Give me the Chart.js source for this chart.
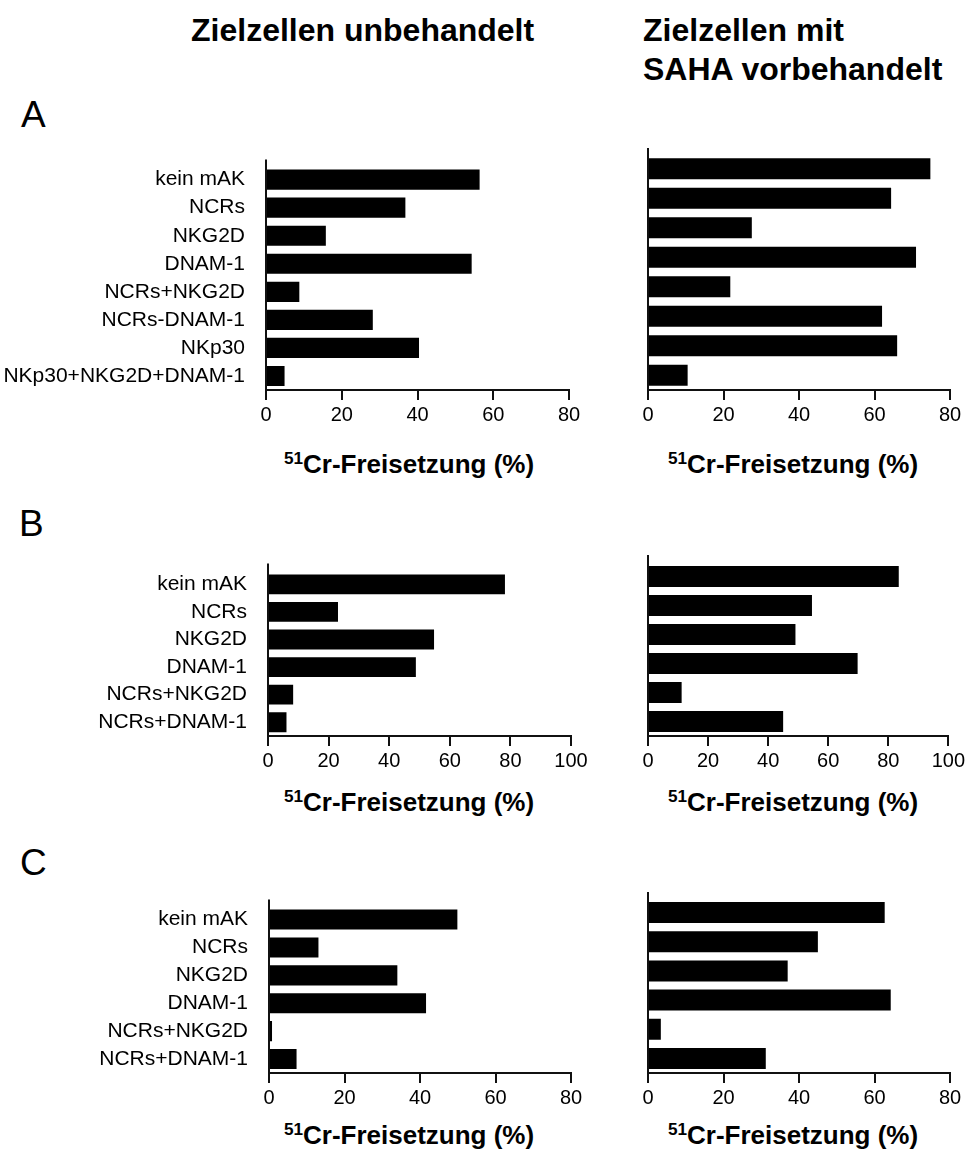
<!DOCTYPE html>
<html>
<head>
<meta charset="utf-8">
<script src="https://cdn.jsdelivr.net/npm/chart.js@4.4.1/dist/chart.umd.min.js"></script>
<style>
  html, body { margin: 0; padding: 0; background: #fff; }
  #page { position: relative; width: 968px; height: 1149px; overflow: hidden; font-family: "Liberation Sans", Arial, sans-serif; color: #000; }
  .txt { position: absolute; white-space: nowrap; line-height: 1; }
  .head { font-size: 32px; font-weight: bold; }
  .letter { font-size: 37px; }
  .xtitle { font-size: 26px; font-weight: bold; width: 400px; text-align: center; }
  .xtitle sup { font-size: 0.66em; vertical-align: 0.5em; line-height: 0; }
  canvas { position: absolute; }
</style>
</head>
<body>
<div id="page">
  <div class="txt head" style="left:191px; top:14px;">Zielzellen unbehandelt</div>
  <div class="txt head" style="left:643px; top:14px;">Zielzellen mit</div>
  <div class="txt head" style="left:643px; top:53px;">SAHA vorbehandelt</div>

  <div class="txt letter" style="left:21px; top:96px;">A</div>
  <div class="txt letter" style="left:19px; top:505px;">B</div>
  <div class="txt letter" style="left:20px; top:844px;">C</div>

  <canvas id="chartA1" width="620" height="290" style="left:0; top:140px;"></canvas>
  <canvas id="chartA2" width="348" height="290" style="left:620px; top:140px;"></canvas>
  <canvas id="chartB1" width="620" height="231" style="left:0; top:545px;"></canvas>
  <canvas id="chartB2" width="348" height="231" style="left:620px; top:545px;"></canvas>
  <canvas id="chartC1" width="620" height="233" style="left:0; top:880px;"></canvas>
  <canvas id="chartC2" width="348" height="233" style="left:620px; top:880px;"></canvas>

  <div class="txt xtitle" style="left:209px; top:451px;"><sup>51</sup>Cr-Freisetzung (%)</div>
  <div class="txt xtitle" style="left:593px; top:451px;"><sup>51</sup>Cr-Freisetzung (%)</div>
  <div class="txt xtitle" style="left:209px; top:789px;"><sup>51</sup>Cr-Freisetzung (%)</div>
  <div class="txt xtitle" style="left:593px; top:789px;"><sup>51</sup>Cr-Freisetzung (%)</div>
  <div class="txt xtitle" style="left:209px; top:1122px;"><sup>51</sup>Cr-Freisetzung (%)</div>
  <div class="txt xtitle" style="left:593px; top:1122px;"><sup>51</sup>Cr-Freisetzung (%)</div>
</div>

<script>
// antibody blocking conditions
const categoriesA = ['kein mAK', 'NCRs', 'NKG2D', 'DNAM-1', 'NCRs+NKG2D', 'NCRs-DNAM-1', 'NKp30', 'NKp30+NKG2D+DNAM-1'];
const categoriesB = ['kein mAK', 'NCRs', 'NKG2D', 'DNAM-1', 'NCRs+NKG2D', 'NCRs+DNAM-1'];
const categoriesC = ['kein mAK', 'NCRs', 'NKG2D', 'DNAM-1', 'NCRs+NKG2D', 'NCRs+DNAM-1'];

// 51Cr release (%), untreated target cells vs. SAHA pretreated
const untreatedA = [56.4, 36.8, 15.8, 54.3, 8.8, 28.2, 40.4, 4.9];
const sahaA = [74.8, 64.4, 27.5, 71.0, 21.8, 62.0, 66.0, 10.5];
const untreatedB = [78.2, 23.1, 54.8, 48.8, 8.3, 6.1];
const sahaB = [83.5, 54.6, 49.1, 69.8, 11.2, 45.0];
const untreatedC = [49.9, 13.1, 34.0, 41.6, 0.8, 7.3];
const sahaC = [62.7, 45.0, 37.0, 64.3, 3.4, 31.2];

// x axis maxima
const xMaxA = 80;
const xMaxB = 100;
const xMaxC = 80;

const FONT = '"Liberation Sans", Arial, sans-serif';
const INK = '#111';

// the y axis line sticks out a little above the bars
const axisTop = {
    id: 'axisTop',
    afterDraw(chart, args, opts) {
        const { ctx, chartArea } = chart;
        ctx.save();
        ctx.strokeStyle = INK;
        ctx.lineWidth = 2;
        ctx.beginPath();
        ctx.moveTo(chartArea.left, chartArea.top - opts.extend);
        ctx.lineTo(chartArea.left, chartArea.top + 1);
        ctx.stroke();
        ctx.restore();
    }
};

function makeChart(id, labels, values, xMax, opt) {
    const ctx = document.getElementById(id).getContext('2d');
    return new Chart(ctx, {
        type: 'bar',
        data: {
            labels: labels,
            datasets: [{
                data: values,
                backgroundColor: '#000',
                borderWidth: 0,
                barPercentage: 0.72,
                categoryPercentage: 1
            }]
        },
        plugins: [axisTop],
        options: {
            indexAxis: 'y',
            responsive: false,
            animation: false,
            layout: {
                padding: { top: opt.padTop, right: opt.padRight, bottom: 0, left: 0 }
            },
            plugins: {
                legend: { display: false },
                tooltip: { enabled: false },
                axisTop: { extend: opt.extend }
            },
            scales: {
                x: {
                    min: 0,
                    max: xMax,
                    afterFit(scale) { scale.height = 40; },
                    ticks: {
                        stepSize: 20,
                        color: '#000',
                        padding: 3,
                        font: { family: FONT, size: 20 }
                    },
                    grid: {
                        drawOnChartArea: false,
                        drawTicks: true,
                        tickLength: 10,
                        color: INK,
                        lineWidth: 2
                    },
                    border: { display: true, color: INK, width: 2 }
                },
                y: {
                    afterFit(scale) { scale.width = opt.axisWidth; },
                    ticks: {
                        display: opt.showLabels,
                        autoSkip: false,
                        color: '#000',
                        padding: 13,
                        font: { family: FONT, size: 21 }
                    },
                    grid: { display: false },
                    border: { display: true, color: INK, width: 2 }
                }
            }
        }
    });
}

makeChart('chartA1', categoriesA, untreatedA, xMaxA, { padTop: 14, padRight: 51, axisWidth: 266, showLabels: true, extend: 6 });
makeChart('chartA2', categoriesA, sahaA, xMaxA, { padTop: 14, padRight: 18, axisWidth: 28, showLabels: false, extend: 6 });
makeChart('chartB1', categoriesB, untreatedB, xMaxB, { padTop: 17, padRight: 49, axisWidth: 268, showLabels: true, extend: 7 });
makeChart('chartB2', categoriesB, sahaB, xMaxB, { padTop: 17, padRight: 18, axisWidth: 28, showLabels: false, extend: 7 });
makeChart('chartC1', categoriesC, untreatedC, xMaxC, { padTop: 18, padRight: 49, axisWidth: 269, showLabels: true, extend: 6 });
makeChart('chartC2', categoriesC, sahaC, xMaxC, { padTop: 18, padRight: 18, axisWidth: 28, showLabels: false, extend: 6 });
</script>
</body>
</html>
